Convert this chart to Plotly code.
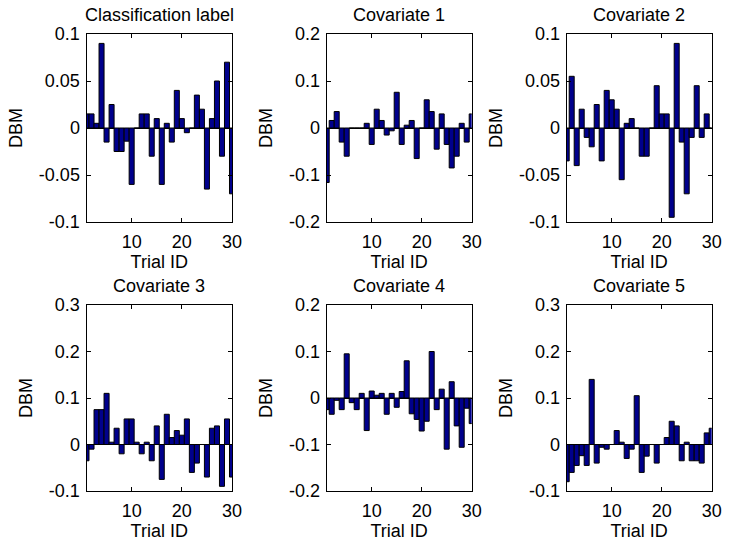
import plotly.graph_objects as go

trial_ids = list(range(1, 31))

classification_label = [0.015, 0.015, 0.005, 0.09, -0.015, 0.025, -0.025, -0.025, -0.014, -0.06,
                         0.0, 0.015, 0.015, -0.03, 0.01, -0.06, 0.005, -0.015, 0.04, 0.01,
                         -0.005, 0.0, 0.035, 0.02, -0.065, 0.01, 0.05, -0.03, 0.07, -0.07]
covariate_1 = [-0.116, 0.016, 0.035, -0.03, -0.06, 0.0, 0.0, 0.0, 0.01, -0.035,
               0.04, 0.016, -0.015, -0.006, 0.076, -0.035, 0.006, 0.016, -0.065, 0.0,
               0.06, 0.035, -0.045, 0.03, -0.035, -0.085, -0.06, 0.01, -0.03, 0.03]
covariate_2 = [-0.035, 0.055, -0.04, 0.02, -0.01, -0.02, 0.025, -0.035, 0.04, 0.03,
               0.02, -0.055, 0.005, 0.01, 0.0, -0.03, -0.03, 0.0, 0.045, 0.015,
               0.015, -0.095, 0.09, -0.015, -0.07, -0.01, 0.045, -0.01, 0.015, 0.0]
covariate_3 = [-0.035, -0.01, 0.075, 0.075, 0.11, 0.005, 0.035, -0.02, 0.055, 0.055,
               0.005, -0.02, 0.005, -0.035, 0.04, -0.075, 0.065, 0.015, 0.03, 0.02,
               0.055, -0.06, -0.04, 0.0, -0.07, 0.035, 0.04, -0.09, 0.055, -0.07]
covariate_4 = [-0.025, -0.035, -0.005, -0.025, 0.095, -0.01, -0.025, 0.01, -0.07, 0.015,
               0.006, 0.01, -0.035, 0.01, -0.02, 0.014, 0.08, -0.034, -0.046, -0.071,
               -0.05, 0.1, -0.025, 0.019, -0.11, 0.035, -0.06, -0.106, -0.022, -0.055]
covariate_5 = [-0.08, -0.06, -0.045, -0.024, -0.045, 0.14, -0.04, -0.006, -0.01, 0.0,
               0.03, 0.005, -0.03, -0.01, 0.105, -0.06, -0.025, 0.0, -0.04, 0.0,
               0.015, 0.05, 0.04, -0.035, 0.005, -0.035, -0.035, -0.04, 0.025, 0.035]

titles = ["Classification label", "Covariate 1", "Covariate 2",
          "Covariate 3", "Covariate 4", "Covariate 5"]
series = [classification_label, covariate_1, covariate_2,
          covariate_3, covariate_4, covariate_5]

yticks_a = [-0.1, -0.05, 0, 0.05, 0.1]
ytext_a = ["-0.1", "-0.05", "0", "0.05", "0.1"]
yticks_b = [-0.2, -0.1, 0, 0.1, 0.2]
ytext_b = ["-0.2", "-0.1", "0", "0.1", "0.2"]
yticks_c = [-0.1, 0, 0.1, 0.2, 0.3]
ytext_c = ["-0.1", "0", "0.1", "0.2", "0.3"]
xticks = [10, 20, 30]
xtext = ["10", "20", "30"]

ytick_sets = [(yticks_a, ytext_a), (yticks_b, ytext_b), (yticks_a, ytext_a),
              (yticks_c, ytext_c), (yticks_b, ytext_b), (yticks_c, ytext_c)]

W, H = 729, 546
col_px = [(86.5, 232), (326.7, 471.7), (566.7, 711.7)]
row_px = [(34, 222), (305, 491)]

FONT = "Liberation Sans, Arial, Helvetica, sans-serif"
fig = go.Figure()
layout = dict(
    width=W, height=H,
    margin=dict(l=0, r=0, t=0, b=0, pad=0),
    paper_bgcolor="white", plot_bgcolor="white",
    showlegend=False, bargap=0,
    font=dict(family=FONT, size=17, color="black"),
    annotations=[],
)

for k in range(6):
    r, c = divmod(k, 3)
    xn = "x" if k == 0 else f"x{k+1}"
    yn = "y" if k == 0 else f"y{k+1}"
    xa = "xaxis" if k == 0 else f"xaxis{k+1}"
    ya = "yaxis" if k == 0 else f"yaxis{k+1}"
    x0, x1 = col_px[c]
    t0, t1 = row_px[r]
    dx = [x0 / W, x1 / W]
    dy = [1 - t1 / H, 1 - t0 / H]
    fig.add_trace(go.Bar(
        x=trial_ids, y=series[k], xaxis=xn, yaxis=yn, width=1,
        marker=dict(color="rgb(0,0,140)", line=dict(color="black", width=1)),
        hoverinfo="skip",
    ))
    yt, ytt = ytick_sets[k]
    layout[xa] = dict(
        domain=dx, anchor=yn, range=[1, 30], automargin=False,
        tickvals=xticks, ticktext=xtext,
        ticks="inside", ticklen=4, tickcolor="black", ticklabelstandoff=3,
        showline=True, linecolor="black", linewidth=1, mirror="allticks",
        showgrid=False, zeroline=False,
        title=dict(text="Trial ID", standoff=0, font=dict(size=18)),
        tickfont=dict(size=18),
    )
    layout[ya] = dict(
        domain=dy, anchor=xn, range=[yt[0], yt[-1]], automargin=False,
        tickvals=yt, ticktext=ytt,
        ticks="inside", ticklen=4, tickcolor="black", ticklabelstandoff=2,
        showline=True, linecolor="black", linewidth=1, mirror="allticks",
        showgrid=False, zeroline=True, zerolinecolor="black", zerolinewidth=1,
        title=dict(text="DBM", standoff=11, font=dict(size=18)),
        tickfont=dict(size=18),
    )
    layout["annotations"].append(dict(
        text=titles[k], xref="paper", yref="paper",
        x=(dx[0] + dx[1]) / 2, y=dy[1], xanchor="center", yanchor="bottom",
        yshift=7, showarrow=False, font=dict(size=18),
    ))

fig.update_layout(**layout)
fig.write_html(
    "out.html",
    config={"displayModeBar": False, "staticPlot": True},
    post_script="document.body.style.margin='0px';document.body.style.overflow='hidden';",
)
